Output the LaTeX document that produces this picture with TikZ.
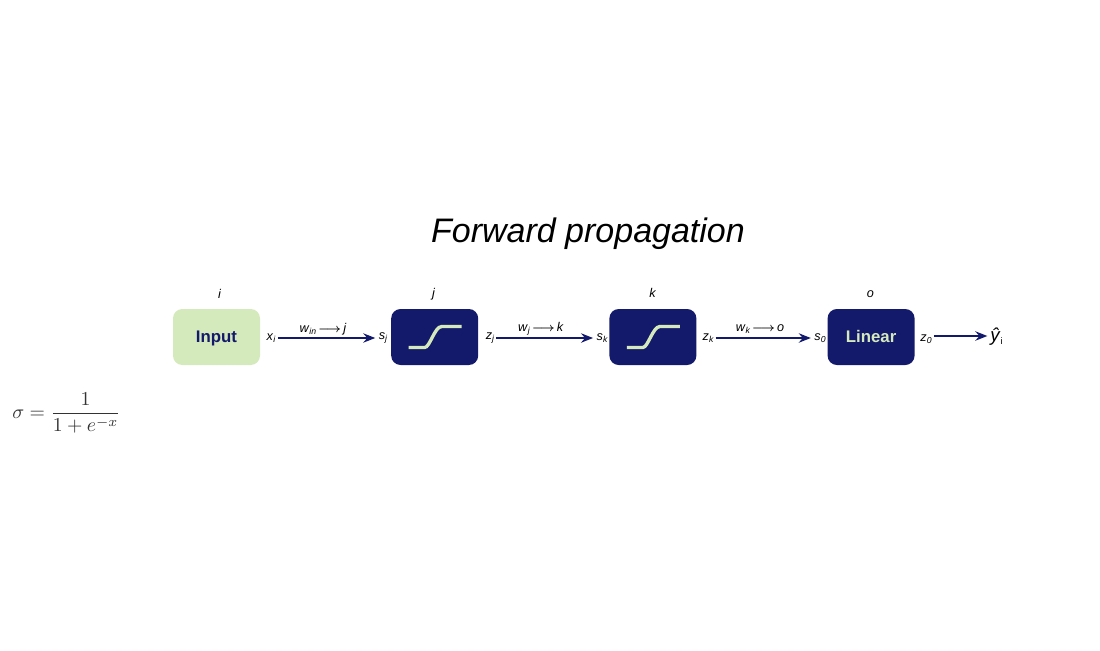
\documentclass[tikz,border=0pt]{standalone}
\usepackage{fontspec}
\setmainfont{Liberation Sans}
\usetikzlibrary{positioning,arrows.meta}
\definecolor{navy}{HTML}{141A6B}
\definecolor{leaf}{HTML}{D4E9BC}
\definecolor{inkgray}{HTML}{333333}
% subscripted italic label
\newcommand{\sublab}[2]{\textit{#1}{\fontsize{6.5}{7}\selectfont\textit{\raisebox{-0.45ex}{#2}}}}
\newcommand{\thinarrow}{\,{\boldmath$\longrightarrow$}\,}

\begin{document}
\begin{tikzpicture}[%
    x=0.75pt, y=-0.75pt,        % reference pixels, origin top left
    >={Stealth[length=9pt,width=7pt,inset=3pt]},
    node distance=98pt,         % gap between boxes
    ]
% -------------------------------------------------
\tikzset{
  base/.style={rectangle, rounded corners=7pt, minimum width=65.25pt,
    minimum height=42pt, inner sep=0pt, text height=9pt, text depth=0.75pt,
    font={\fontsize{12.6}{15}\selectfont\bfseries}},
  inbox/.style={base, fill=leaf, text=navy},
  unit/.style={base, fill=navy, text=leaf},
  it/.style={inner sep=0pt, font={\fontsize{9.5}{11}\selectfont\itshape}},
  sig/.style={inner sep=0pt, font={\fontsize{9.5}{11}\selectfont}},
  wire/.style={->, draw=navy, line width=1.6pt},
  sigmoid/.pic={
    \draw [leaf, line width=2.5pt]
      (-26,10.5) -- (-10,10.5) .. controls (-5,10.5) and (0,-10.5) .. (7,-10.5) -- (27,-10.5);
  }
}
\useasboundingbox (0,0) rectangle (1100,650);
% -------------------------------------------------
\node at (588,234) (title) {\fontsize{25.5}{30}\selectfont\itshape Forward propagation};
% The four boxes
\node [inbox] at (216.5,337) (input) {Input};
\node [unit, right=of input] (bj) {};
\node [unit, right=of bj] (bk) {};
\node [unit, right=of bk] (linear) {Linear};
\pic at (bj.center) {sigmoid};
\pic at (bk.center) {sigmoid};
% Names above the boxes
\node [it] at (219.5,294) (ni) {i};
\node [it] at (433.5,294) (nj) {j};
\node [it] at (652.5,293) (nk) {k};
\node [it] at (870.5,294) (no) {o};
% Signals beside the boxes
\node [sig] at (271,338) (xi) {\sublab{x}{i}};
\node [sig] at (383,338) (sj) {\sublab{s}{j}};
\node [sig] at (490,338) (zj) {\sublab{z}{j}};
\node [sig] at (602,338) (sk) {\sublab{s}{k}};
\node [sig] at (708,338) (zk) {\sublab{z}{k}};
\node [sig] at (820,338) (so) {\sublab{s}{0}};
\node [sig] at (926,339) (zo) {\sublab{z}{0}};
\node [inner sep=0pt] at (996.5,337) (yhat) {\fontsize{14}{16}\selectfont\textit{ŷ}{\fontsize{7}{8}\selectfont\raisebox{-0.5ex}{i}}};
% Weights over the wires
\node [sig] at (323,329) (wij) {\sublab{w}{in}\thinarrow\textit{j}};
\node [sig] at (541,329) (wjk) {\sublab{w}{j}\thinarrow\textit{k}};
\node [sig] at (760,329) (wko) {\sublab{w}{k}\thinarrow\textit{o}};
% Wires
\draw [wire] (xi.east) ++(2,0) -- ([xshift=-2.5pt]sj.west);
\draw [wire] (zj.east) ++(2,0) -- ([xshift=-2.5pt]sk.west);
\draw [wire] (zk.east) ++(2,0) -- ([xshift=-2.5pt]so.west);
\draw [wire] ([xshift=1.5pt,yshift=2.25pt]zo.east) -- ([xshift=-2pt,yshift=0.75pt]yhat.west);
% Formula on the left
\node [text=inkgray, inner sep=0pt] at (66.5,413) (sigma)
  {\scalebox{1.48}{$\displaystyle\sigma=\frac{1}{1+e^{-x}}$}};
% -------------------------------------------------
\end{tikzpicture}
\end{document}
